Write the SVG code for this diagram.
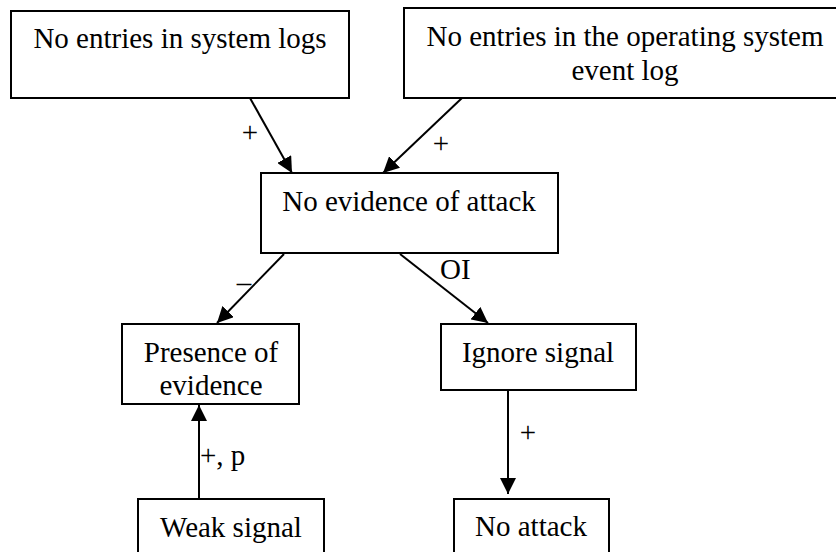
<svg xmlns="http://www.w3.org/2000/svg" width="836" height="552" viewBox="0 0 836 552">
<style>
.box{fill:#fff;stroke:#000;stroke-width:2}
text{font-family:'Liberation Serif','DejaVu Serif',serif;font-size:29px;fill:#000}
.t{text-anchor:middle}
.c{stroke:#000;stroke-width:2;fill:none;marker-end:url(#ah)}
</style>
<defs>
<marker id="ah" markerUnits="userSpaceOnUse" markerWidth="16" markerHeight="16" viewBox="0 0 16 16" refX="16" refY="8" orient="auto">
<path d="M0,0 L16,8 L0,16 z" fill="#000"/>
</marker>
</defs>
<rect width="836" height="552" fill="#fff"/>
<g id="n1"><rect class="box" x="11" y="11" width="338" height="87"/><text class="t" x="180" y="48">No entries in system logs</text></g>
<g id="n2"><rect class="box" x="404" y="8" width="444" height="90"/><text class="t" x="625" y="46">No entries in the operating system</text><text class="t" x="625" y="80">event log</text></g>
<g id="n3"><rect class="box" x="261" y="173" width="297" height="80"/><text class="t" x="409" y="211">No evidence of attack</text></g>
<g id="n4"><rect class="box" x="122" y="324" width="177" height="80"/><text class="t" x="211" y="362">Presence of</text><text class="t" x="211" y="395">evidence</text></g>
<g id="n5"><rect class="box" x="441" y="324" width="195" height="66"/><text class="t" x="538" y="362">Ignore signal</text></g>
<g id="n6"><rect class="box" x="138" y="499" width="186" height="70"/><text class="t" x="231" y="537">Weak signal</text></g>
<g id="n7"><rect class="box" x="454" y="499" width="155" height="70"/><text class="t" x="531" y="536">No attack</text></g>
<g id="connectors">
<line class="c" x1="250" y1="98" x2="292" y2="173"/>
<line class="c" x1="462" y1="98" x2="383" y2="173"/>
<line class="c" x1="284" y1="254" x2="217" y2="323"/>
<line class="c" x1="400" y1="254" x2="488" y2="323"/>
<line class="c" x1="199" y1="499" x2="199" y2="405"/>
<line class="c" x1="508" y1="390" x2="508" y2="494"/>
<text class="t" x="250" y="142">+</text>
<text class="t" x="441" y="153">+</text>
<text class="t" x="244" y="292">–</text>
<text x="440" y="279">OI</text>
<text x="200" y="465">+, p</text>
<text class="t" x="528" y="442">+</text>
</g>
</svg>
